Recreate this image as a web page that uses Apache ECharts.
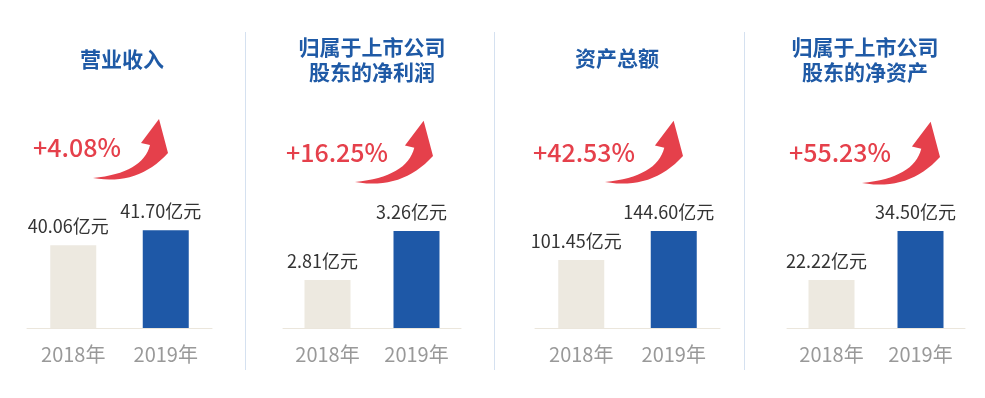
<!DOCTYPE html>
<html>
<head>
<meta charset="utf-8">
<title>主要财务指标</title>
<script src="https://cdn.jsdelivr.net/npm/echarts@6/dist/echarts.min.js"></script>
<style>
    html, body { margin: 0; padding: 0; background: #fff; }
    #chart { width: 985px; height: 398px; }
</style>
</head>
<body>
<div id="chart"></div>
<script>
// 数据
const categories = ['2018年', '2019年'];
const panelTitles = ['营业收入', '归属于上市公司\n股东的净利润', '资产总额', '归属于上市公司\n股东的净资产'];
const values2018 = [40.06, 2.81, 101.45, 22.22];
const values2019 = [41.70, 3.26, 144.60, 34.50];
const growth = ['+4.08%', '+16.25%', '+42.53%', '+55.23%'];
// 每个小图的纵轴范围（原图不是从 0 开始）
const axisMin = [31, 2.37, 0, 10.19];
const axisMax = [45, 3.545, 190.8, 42.27];

// 版面
const layout = [
    { left: 27, width: 185, titleX: 122, titleY: 59, pctX: 77, pctY: 147, arrowX: 93, arrowY: 178, s: 1 },
    { left: 283, width: 178, titleX: 372, titleY: 60, pctX: 337, pctY: 152, arrowX: 355, arrowY: 182, s: 1.04 },
    { left: 535, width: 185, titleX: 617, titleY: 58, pctX: 584, pctY: 152, arrowX: 605, arrowY: 182, s: 1.04 },
    { left: 787, width: 178, titleX: 865, titleY: 60, pctX: 840, pctY: 152, arrowX: 862, arrowY: 183, s: 1.04 }
];
const separators = [245.5, 494.5, 744.5];
const fontFamily = '"Noto Sans CJK SC", "Noto Sans", sans-serif';
const barColors = ['#ede9e0', '#1e58a7'];

// 弯箭头：两条二次曲线 + 箭头三角，采样成多边形
function quad(p0, c, p1, n) {
    let pts = [];
    for (let k = 0; k <= n; k++) {
        let t = k / n;
        let a = (1 - t) * (1 - t), b = 2 * (1 - t) * t, d = t * t;
        pts.push([a * p0[0] + b * c[0] + d * p1[0], a * p0[1] + b * c[1] + d * p1[1]]);
    }
    return pts;
}
const arrowPoints = [].concat(
    quad([0, 0], [50, -5], [57, -33], 16),
    [[48, -35], [66, -59]],
    quad([75, -25], [45, 8], [0, 0], 16)
);

let grids = [], xAxes = [], yAxes = [], series = [], titles = [], graphics = [];

layout.forEach(function (p, i) {
    grids.push({ left: p.left, width: p.width, top: 200, height: 128 });
    xAxes.push({
        type: 'category',
        gridIndex: i,
        data: categories,
        axisLine: { lineStyle: { color: '#ebe6dc', width: 1 } },
        axisTick: { show: false },
        axisLabel: { color: '#999', fontSize: 20, fontFamily: fontFamily, margin: 16 }
    });
    yAxes.push({
        type: 'value',
        gridIndex: i,
        min: axisMin[i],
        max: axisMax[i],
        show: false
    });
    series.push({
        type: 'bar',
        xAxisIndex: i,
        yAxisIndex: i,
        barWidth: 46,
        data: [values2018[i], values2019[i]],
        itemStyle: {
            color: function (params) {
                return barColors[params.dataIndex];
            }
        },
        label: {
            show: true,
            position: 'top',
            distance: 10,
            offset: [-5, 0],
            color: '#333',
            fontSize: 18,
            fontFamily: fontFamily,
            formatter: function (params) {
                return params.value.toFixed(2) + '亿元';
            }
        }
    });
    titles.push({
        text: panelTitles[i],
        left: p.titleX,
        top: p.titleY,
        textAlign: 'center',
        textVerticalAlign: 'middle',
        padding: 0,
        textStyle: {
            color: '#1f5aa6',
            fontSize: 21,
            fontWeight: 'bold',
            lineHeight: 25,
            fontFamily: fontFamily
        }
    });
    graphics.push({
        type: 'text',
        x: p.pctX,
        y: p.pctY,
        style: {
            text: growth[i],
            fill: '#e5404b',
            font: '500 25px ' + fontFamily,
            align: 'center',
            verticalAlign: 'middle'
        }
    });
    graphics.push({
        type: 'polygon',
        x: p.arrowX,
        y: p.arrowY,
        scaleX: p.s,
        scaleY: p.s,
        shape: { points: arrowPoints },
        style: { fill: '#e5404b' }
    });
});

separators.forEach(function (x) {
    graphics.push({
        type: 'line',
        shape: { x1: x, y1: 32, x2: x, y2: 370 },
        style: { stroke: '#d5e1f0', lineWidth: 1 }
    });
});

let myChart = echarts.init(document.getElementById('chart'));
myChart.setOption({
    animation: false,
    backgroundColor: '#fff',
    title: titles,
    grid: grids,
    xAxis: xAxes,
    yAxis: yAxes,
    series: series,
    graphic: graphics
});
</script>
</body>
</html>
